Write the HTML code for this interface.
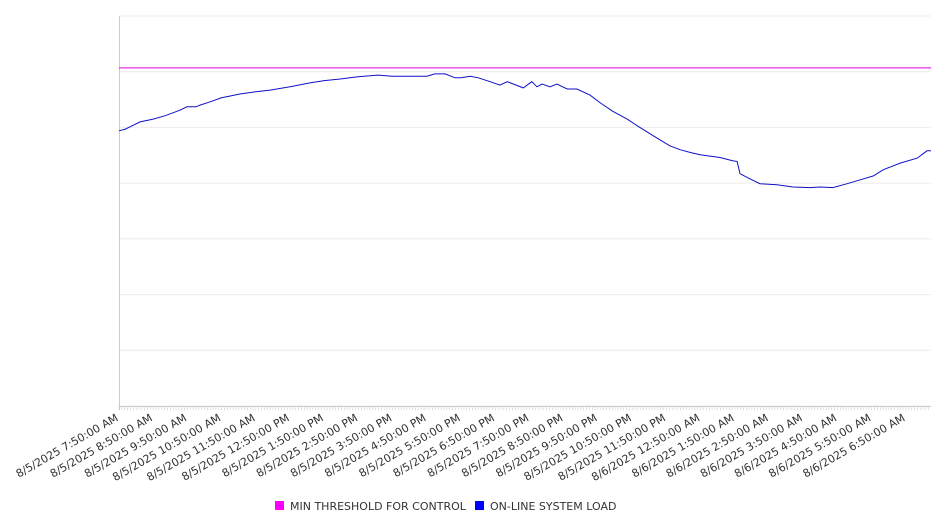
<!DOCTYPE html>
<html><head><meta charset="utf-8"><style>
html,body{margin:0;padding:0;background:#fff;}
svg{display:block;font-family:"DejaVu Sans","Liberation Sans",sans-serif;}
</style></head><body>
<svg id="chart" width="946" height="526">
<g id="grid"></g>
<g id="axes"></g>
<g id="series"></g>
<g id="xlabels"></g>
<g>
<g>
<rect x="275" y="501" width="9" height="9" fill="#ff00ff"/>
<text x="290" y="510" font-size="11" fill="#333">MIN THRESHOLD FOR CONTROL</text>
</g>
<g>
<rect x="475" y="501" width="9" height="9" fill="#0000ff"/>
<text x="490" y="510" font-size="11" fill="#333">ON-LINE SYSTEM LOAD</text>
</g>
</g>
</svg>
<script>
const minutes=[0,11,19,37,60,81,107,119,135,142,160,179,212,240,265,300,335,360,388,419,454,479,510,540,554,572,589,600,616,630,651,668,681,709,724,733,742,756,768,786,803,826,844,866,891,909,937,966,984,1002,1019,1054,1077,1084,1089,1102,1124,1154,1182,1212,1230,1252,1277,1300,1323,1340,1370,1400,1417,1424];
const loadValues=[49.4,49.7,50.1,51.0,51.5,52.1,53.1,53.7,53.7,54.0,54.6,55.3,56.0,56.4,56.7,57.3,58.0,58.4,58.7,59.1,59.4,59.2,59.2,59.2,59.6,59.6,58.9,58.9,59.2,58.9,58.2,57.6,58.2,57.1,58.2,57.3,57.8,57.3,57.8,56.9,56.9,55.8,54.4,52.9,51.5,50.3,48.5,46.7,46.0,45.5,45.1,44.6,44.0,43.9,41.7,41.0,39.9,39.7,39.3,39.2,39.3,39.2,39.9,40.6,41.3,42.4,43.6,44.5,45.8,45.8];
const thresholdValue=60.7;
const tickLabels=["8/5/2025 7:50:00 AM","8/5/2025 8:50:00 AM","8/5/2025 9:50:00 AM","8/5/2025 10:50:00 AM","8/5/2025 11:50:00 AM","8/5/2025 12:50:00 PM","8/5/2025 1:50:00 PM","8/5/2025 2:50:00 PM","8/5/2025 3:50:00 PM","8/5/2025 4:50:00 PM","8/5/2025 5:50:00 PM","8/5/2025 6:50:00 PM","8/5/2025 7:50:00 PM","8/5/2025 8:50:00 PM","8/5/2025 9:50:00 PM","8/5/2025 10:50:00 PM","8/5/2025 11:50:00 PM","8/6/2025 12:50:00 AM","8/6/2025 1:50:00 AM","8/6/2025 2:50:00 AM","8/6/2025 3:50:00 AM","8/6/2025 4:50:00 AM","8/6/2025 5:50:00 AM","8/6/2025 6:50:00 AM"];
const gridValues=[0,10,20,30,40,50,60,70];

const NS="http://www.w3.org/2000/svg";
const X0=119,X1=931,Y0=406,Y1=16,TMAX=1424,VMAX=70;
const xs=t=>X0+t/TMAX*(X1-X0);
const ys=v=>Y0-v/VMAX*(Y0-Y1);
function mk(tag,attrs,parent){const e=document.createElementNS(NS,tag);for(const k in attrs)e.setAttribute(k,attrs[k]);parent.appendChild(e);return e;}
const grid=document.getElementById('grid'),axes=document.getElementById('axes'),series=document.getElementById('series'),xl=document.getElementById('xlabels');
gridValues.forEach(v=>{
  const l=mk('line',{x1:X0,x2:X1,y1:ys(v),y2:ys(v),stroke:'#ebebeb','stroke-width':1},grid);
  
  
});
const ya=mk('line',{x1:X0+0.5,x2:X0+0.5,y1:Y1,y2:Y0+4,stroke:'#ccc'},axes);


const xa=mk('line',{x1:X0,x2:X1,y1:Y0+0.5,y2:Y0+0.5,stroke:'#ccc'},axes);


for(let t=0;t<=TMAX;t+=5){
  const tk=mk('line',{x1:xs(t),x2:xs(t),y1:Y0,y2:Y0+4,stroke:'#ccc','stroke-width':0.6},axes);
  
  
}
const th=mk('line',{x1:X0,x2:X1,y1:ys(thresholdValue),y2:ys(thresholdValue),stroke:'#e000e0','stroke-width':1},series);


const pts=minutes.map((t,i)=>xs(t).toFixed(1)+','+ys(loadValues[i]).toFixed(1)).join(' ');
const pl=mk('polyline',{points:pts,fill:'none',stroke:'#1010c8','stroke-width':1},series);


tickLabels.forEach((s,i)=>{
  const x=xs(i*60);
  const tx=mk('text',{x:x,y:Y0+14,'text-anchor':'end','font-size':11,fill:'#333',transform:'rotate(-30 '+x+' '+(Y0+14)+')'},xl);
  tx.textContent=s;
  
  
});
</script>
</body></html>
